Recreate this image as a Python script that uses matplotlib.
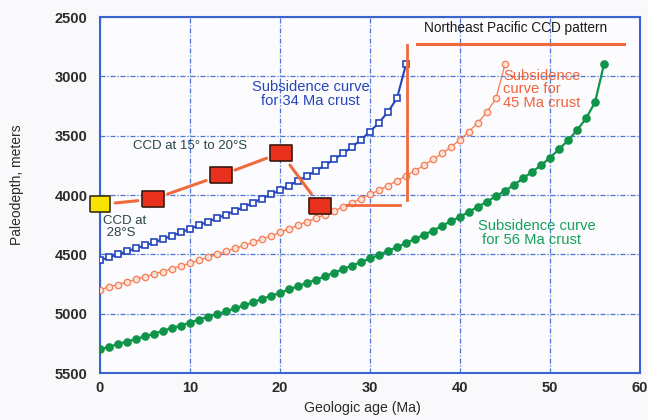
import numpy as np
import matplotlib
matplotlib.use("Agg")
import matplotlib.pyplot as plt

plt.rcParams['font.family'] = ['Liberation Sans', 'DejaVu Sans']

# subsidence curves (1 Ma steps)
age_34 = list(range(0, 35))
depth_34 = [4550, 4525, 4500, 4475, 4450, 4425, 4400, 4370, 4345, 4315,
            4285, 4255, 4225, 4195, 4165, 4135, 4100, 4065, 4030, 3995,
            3960, 3920, 3880, 3840, 3795, 3750, 3700, 3650, 3595, 3535,
            3465, 3390, 3300, 3185, 2900]

age_45 = list(range(0, 46))
depth_45 = [4800, 4775, 4755, 4735, 4710, 4690, 4665, 4645, 4620, 4600,
            4575, 4550, 4525, 4500, 4475, 4450, 4425, 4400, 4370, 4345,
            4315, 4285, 4255, 4225, 4195, 4165, 4135, 4100, 4065, 4030,
            3995, 3960, 3920, 3880, 3840, 3795, 3750, 3700, 3650, 3595,
            3535, 3465, 3390, 3300, 3185, 2900]

age_56 = list(range(0, 57))
depth_56 = [5300, 5280, 5255, 5235, 5215, 5190, 5170, 5145, 5120, 5100,
            5075, 5050, 5025, 5005, 4980, 4955, 4930, 4905, 4875, 4850,
            4825, 4795, 4770, 4740, 4715, 4685, 4655, 4625, 4595, 4565,
            4535, 4505, 4470, 4440, 4405, 4370, 4335, 4300, 4260, 4220,
            4185, 4140, 4100, 4055, 4010, 3965, 3915, 3860, 3805, 3750,
            3685, 3615, 3540, 3455, 3355, 3220, 2900]

# CCD estimates
ccd_yellow_age = [0.0]
ccd_yellow_depth = [4080]
ccd_red_age = [5.9, 13.4, 20.1, 24.5]
ccd_red_depth = [4035, 3835, 3645, 4095]

# Northeast Pacific CCD pattern (orange lines)
ne_vert_age = [34.1, 34.1]
ne_vert_depth = [2735, 4040]
ne_top_age = [35.2, 58.2]
ne_top_depth = [2725, 2725]
ne_low_age = [27.5, 33.3]
ne_low_depth = [4085, 4085]

blue = '#2646bc'
orange = '#f4784e'
green = '#10944a'
red_line = '#f06a3c'
grid_blue = '#4a74d6'

fig = plt.figure(figsize=(6.48, 4.2), dpi=100, facecolor='#f9f9fb')
ax = fig.add_axes([0.1543, 0.1119, 0.8333, 0.8476])
ax.set_facecolor('#fcfcfe')

ax.plot(age_56, depth_56, '-o', color=green, lw=1.6, ms=5.2, mfc=green, mec=green, zorder=3)
ax.plot(age_45, depth_45, '-o', color=orange, lw=1.0, ms=4.6, mfc='#fde6dc', mec=orange,
        mew=1.0, alpha=0.9, zorder=3)
ax.plot(age_34, depth_34, '-s', color=blue, lw=1.5, ms=4.8, mfc='white', mec=blue,
        mew=1.2, zorder=4)

# orange CCD pattern lines
ax.plot(ne_vert_age, ne_vert_depth, color=red_line, lw=2.0, zorder=5)
ax.plot(ne_top_age, ne_top_depth, color=red_line, lw=2.2, zorder=5, clip_on=False)
ax.plot(ne_low_age, ne_low_depth, color=red_line, lw=2.0, zorder=5)

# connecting segments between CCD boxes
pts = list(zip(ccd_yellow_age + ccd_red_age, ccd_yellow_depth + ccd_red_depth))
for (x0, y0), (x1, y1) in zip(pts[:-1], pts[1:]):
    ax.annotate('', xy=(x1, y1), xytext=(x0, y0),
                arrowprops=dict(arrowstyle='-', color=red_line, lw=2.2,
                                shrinkA=11, shrinkB=11), zorder=5)

box = np.array([[-1.38, -1], [1.38, -1], [1.38, 1], [-1.38, 1], [-1.38, -1]])
ax.plot(ccd_red_age, ccd_red_depth, ls='none', marker=box, ms=16, mfc='#e8321e',
        mec='#3a1810', mew=1.2, zorder=6)
ax.plot(ccd_yellow_age, ccd_yellow_depth, ls='none', marker=box, ms=15, mfc='#f6e400',
        mec='#3a3010', mew=1.2, zorder=6, clip_on=False)

# labels inside the plot
ax.text(46.2, 2590, 'Northeast Pacific CCD pattern', fontsize=9.8, color='#1a1a1a',
        ha='center', va='center', zorder=7)
ax.text(10.0, 3590, 'CCD at 15° to 20°S', fontsize=9.5, color='#2a4448',
        ha='center', va='center', zorder=7)
ax.text(0.35, 4170, 'CCD at\n 28°S', fontsize=9.5, color='#2a4448',
        ha='left', va='top', linespacing=1.0, zorder=7)
ax.text(23.4, 3150, 'Subsidence curve\nfor 34 Ma crust', fontsize=10.6, color=blue,
        ha='center', va='center', linespacing=1.0, zorder=7)
ax.text(44.8, 3110, 'Subsidence\ncurve for\n45 Ma crust', fontsize=10.6, color='#f0643e',
        ha='left', va='center', linespacing=0.95, zorder=7)
ax.text(42.0, 4320, 'Subsidence curve\n for 56 Ma crust', fontsize=10.6, color='#16a05a',
        ha='left', va='center', linespacing=1.0, zorder=7)

ax.set_xlim(0, 60)
ax.set_ylim(5500, 2500)
ax.set_xticks(range(0, 61, 10))
ax.set_yticks(range(2500, 5501, 500))
ax.tick_params(length=0, labelsize=10.5, labelcolor='#2a2a2a')
ax.tick_params(axis='y', pad=9)
ax.tick_params(axis='x', pad=6)
for lab in ax.get_xticklabels() + ax.get_yticklabels():
    lab.set_fontweight('bold')

ax.grid(True, color=grid_blue, lw=0.9, ls=(0, (4, 1.5, 1, 1.5)))
for s in ax.spines.values():
    s.set_color('#3a64d0')
    s.set_linewidth(1.5)

fig.text(0.559, 0.028, 'Geologic age (Ma)', fontsize=10.2, color='#2a2a2a',
         ha='center', va='center')
fig.text(0.026, 0.56, 'Paleodepth, meters', fontsize=10, color='#2a2a2a',
         rotation=90, ha='center', va='center')

fig.savefig('out.png', dpi=100, facecolor=fig.get_facecolor())
